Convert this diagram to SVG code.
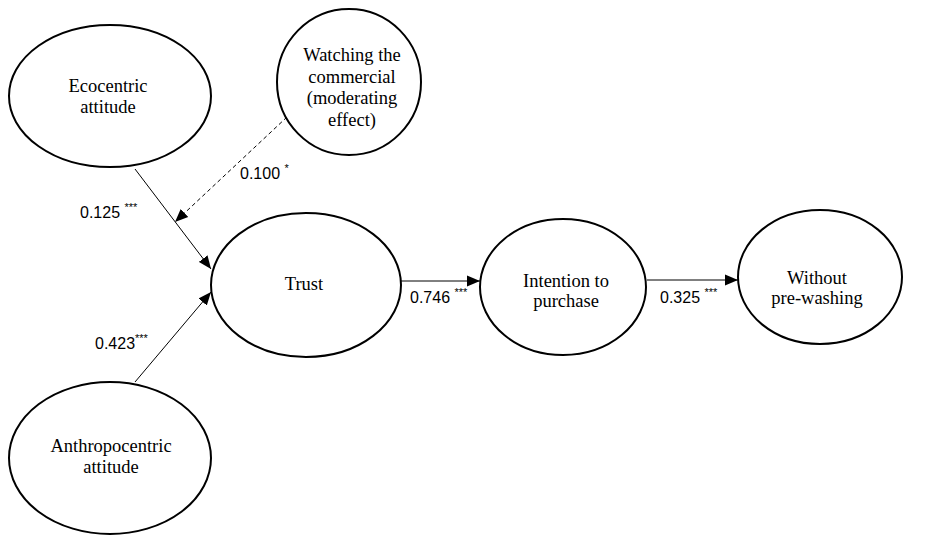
<svg xmlns="http://www.w3.org/2000/svg" width="949" height="537" viewBox="0 0 949 537">
<style>
.node{fill:#fff;stroke:#000;stroke-width:2}
.nt{font-family:"Liberation Serif","Times New Roman",serif;font-size:18.5px;fill:#000;text-anchor:middle}
.lbl{font-family:"Liberation Sans",Arial,sans-serif;font-size:16px;fill:#000}
.sup{font-size:11px}
.edge{stroke:#000;stroke-width:1;fill:none}
.dash{stroke-dasharray:4,3}
</style>
<defs>
<marker id="ah" markerUnits="userSpaceOnUse" markerWidth="13" markerHeight="12" refX="13" refY="6" orient="auto">
<path d="M0,0.5 L13,6 L0,11.5 Z" fill="#000"/>
</marker>
</defs>
<rect width="949" height="537" fill="#fff"/>
<g id="connectors">
<line class="edge" x1="135" y1="169" x2="211" y2="269" marker-end="url(#ah)"/>
<line class="edge" x1="135" y1="382" x2="211" y2="292" marker-end="url(#ah)"/>
<line class="edge dash" x1="287" y1="117" x2="175" y2="222" marker-end="url(#ah)"/>
<line class="edge" x1="401" y1="281" x2="480" y2="281" marker-end="url(#ah)"/>
<line class="edge" x1="647" y1="280" x2="738" y2="280" marker-end="url(#ah)"/>
<text class="lbl" x="240" y="179">0.100 <tspan class="sup" dy="-7">*</tspan></text>
<text class="lbl" x="80" y="218">0.125 <tspan class="sup" dy="-7">***</tspan></text>
<text class="lbl" x="95" y="349">0.423<tspan class="sup" dy="-7">***</tspan></text>
<text class="lbl" x="410" y="303">0.746 <tspan class="sup" dy="-7">***</tspan></text>
<text class="lbl" x="660" y="303">0.325 <tspan class="sup" dy="-7">***</tspan></text>
</g>
<g id="ecocentric">
<ellipse class="node" cx="110" cy="96" rx="101" ry="71"/>
<text class="nt" x="108" y="92">Ecocentric</text>
<text class="nt" x="108" y="113">attitude</text>
</g>
<g id="watching">
<ellipse class="node" cx="349" cy="82" rx="72" ry="73"/>
<text class="nt" x="352" y="61">Watching the</text>
<text class="nt" x="352" y="83">commercial</text>
<text class="nt" x="352" y="104">(moderating</text>
<text class="nt" x="352" y="126">effect)</text>
</g>
<g id="trust">
<ellipse class="node" cx="306" cy="285" rx="95" ry="72"/>
<text class="nt" x="304" y="290">Trust</text>
</g>
<g id="anthropocentric">
<ellipse class="node" cx="110" cy="458" rx="101" ry="76"/>
<text class="nt" x="111" y="452">Anthropocentric</text>
<text class="nt" x="111" y="473">attitude</text>
</g>
<g id="intention">
<ellipse class="node" cx="563" cy="287" rx="83" ry="68"/>
<text class="nt" x="566" y="287">Intention to</text>
<text class="nt" x="566" y="307">purchase</text>
</g>
<g id="without">
<ellipse class="node" cx="820" cy="277" rx="82" ry="67"/>
<text class="nt" x="817" y="284">Without</text>
<text class="nt" x="817" y="304">pre-washing</text>
</g>
</svg>
